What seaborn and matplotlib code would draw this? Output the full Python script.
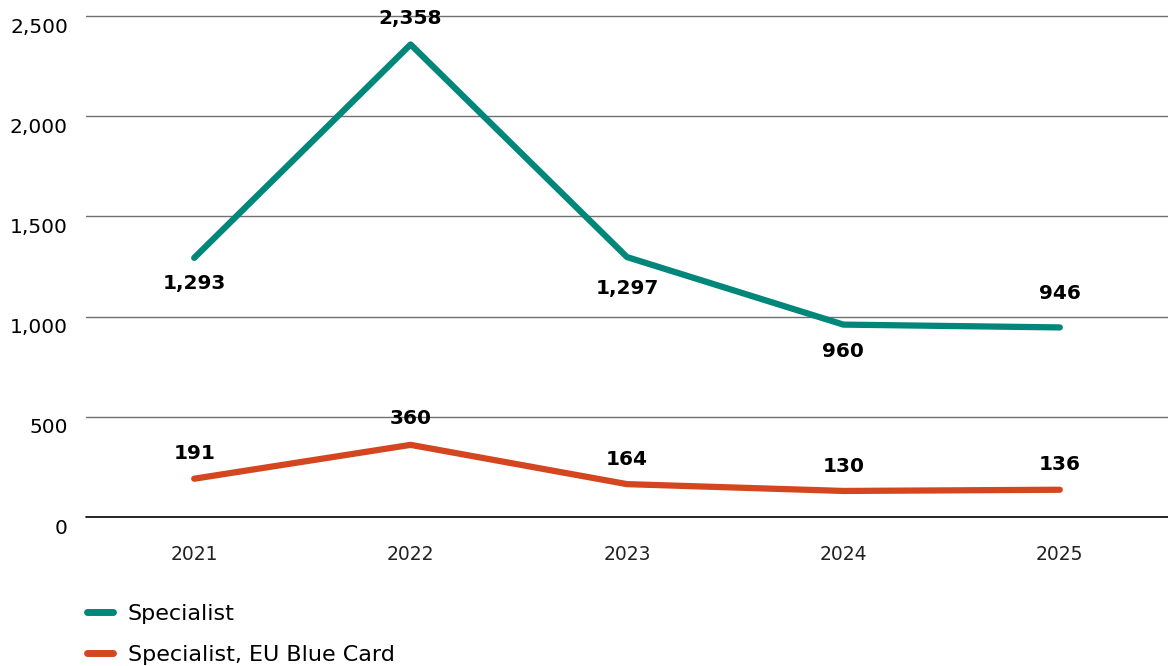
import matplotlib
matplotlib.use("Agg")
import matplotlib.pyplot as plt
import seaborn as sns
import pandas as pd
from matplotlib.lines import Line2D

years = ["2021", "2022", "2023", "2024", "2025"]
specialist = [1293, 2358, 1297, 960, 946]
blue_card = [191, 360, 164, 130, 136]
series_names = ["Specialist", "Specialist, EU Blue Card"]
colors = ["#00877a", "#d4461f"]
yticks = [0, 500, 1000, 1500, 2000, 2500]

df = pd.DataFrame({
    "year": years * 2,
    "value": specialist + blue_card,
    "series": [series_names[0]] * len(years) + [series_names[1]] * len(years),
})

sns.set_theme(style="white")
plt.rcParams["font.family"] = ["DejaVu Sans"]

fig = plt.figure(figsize=(11.68, 6.66), dpi=100)
ax = fig.add_axes([86 / 1168, 1 - 517 / 666, 1 - 86 / 1168, (517 - 16) / 666])

sns.lineplot(data=df, x="year", y="value", hue="series", palette=colors,
             linewidth=4.5, ax=ax, legend=False, sort=False)
for ln in ax.lines:
    ln.set_solid_capstyle("round")
    ln.set_solid_joinstyle("round")

ax.set_xlim(-0.5, len(years) - 0.5)
ax.set_ylim(0, 2500)
ax.set_yticks(yticks)
ax.set_yticklabels([])
ax.tick_params(axis="y", length=0)
ax.tick_params(axis="x", length=0, pad=20, labelsize=13.5, colors="#222222")
ax.set_xlabel("")
ax.set_ylabel("")
for s in ax.spines.values():
    s.set_visible(False)
ytrans = ax.get_yaxis_transform()
for v in yticks:
    ax.axhline(v, color="black" if v == 0 else "#707070", linewidth=1.2 if v == 0 else 1.0,
               zorder=0, clip_on=False)
    ax.annotate(f"{v:,}", (0, v), xycoords=ytrans, xytext=(-13, -8), textcoords="offset points",
                ha="right", va="center", fontsize=14.5, color="black", annotation_clip=False)

# data labels (offsets in points: sign gives above/below)
spec_offset = [-18.5, 19, -22.5, -19, 24.5]
blue_offset = [18, 19, 18, 17.5, 18]
for i, (v, off) in enumerate(zip(specialist, spec_offset)):
    ax.annotate(f"{v:,}", (i, v), xytext=(0, off), textcoords="offset points",
                ha="center", va="center", fontsize=14.5, fontweight="bold", color="black")
for i, (v, off) in enumerate(zip(blue_card, blue_offset)):
    ax.annotate(f"{v:,}", (i, v), xytext=(0, off), textcoords="offset points",
                ha="center", va="center", fontsize=14.5, fontweight="bold", color="black")

handles = [Line2D([0], [0], color=c, linewidth=5, solid_capstyle="round") for c in colors]
fig.legend(handles, series_names, loc="upper left", bbox_to_anchor=(80 / 1168, 1 - 597 / 666),
           frameon=False, fontsize=16, handlelength=1.2, handletextpad=0.65, labelspacing=0.95,
           borderaxespad=0, borderpad=0.3, labelcolor="black")

fig.savefig("out.png", dpi=100)
